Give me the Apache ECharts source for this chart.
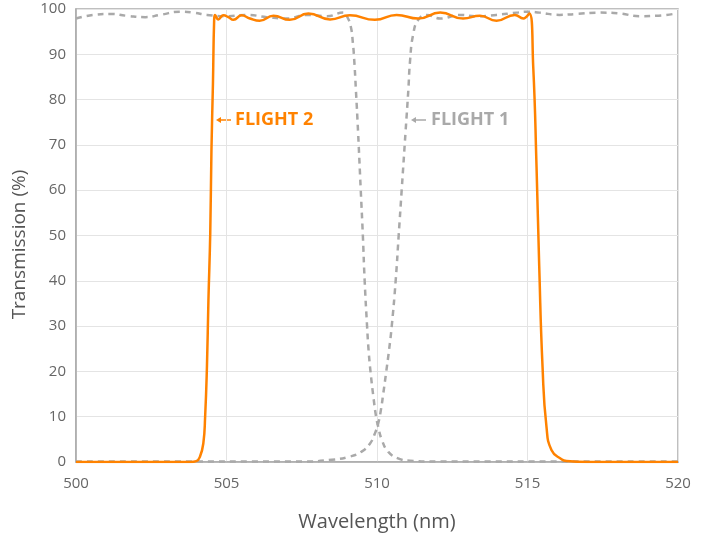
<!DOCTYPE html>
<html><head><meta charset="utf-8">
<script src="https://cdn.jsdelivr.net/npm/echarts@6/dist/echarts.min.js"></script>
<style>html,body{margin:0;padding:0;background:#fff}#c{width:702px;height:537px}</style>
</head><body><div id="c"></div>
<script>
// Flight 2 (bandpass, orange) [wavelength nm, transmission %]
const flight2 = [
 [500,0],[503.8,0],[504.0,0.2],[504.12,1.2],[504.23,4.1],[504.29,10],[504.35,21],[504.4,35.8],[504.46,50.5],
 [504.5,68.9],[504.55,83.6],[504.59,97.6],[504.62,98.7],[504.73,97.7],[504.85,98.5],[504.9,98.6],[505.06,98.2],
 [505.23,97.6],[505.5,98.6],[505.78,97.9],[506.1,97.4],[506.56,98.5],[507.1,97.6],[507.72,99.0],[508.44,97.7],
 [509.1,98.6],[509.93,97.6],[510.65,98.7],[511.37,97.9],[512.1,99.2],[512.86,97.9],[513.42,98.5],[513.97,97.4],
 [514.58,98.7],[514.86,97.9],[515.06,99.0],[515.19,87.3],[515.3,65.2],[515.39,43.1],[515.5,21],[515.63,7.8],
 [515.8,2.6],[516.13,0.6],[516.3,0.2],[517,0],[520,0]
];
// Flight 1, short-pass edge (grey dashed)
const flight1a = [
 [500,97.9],[500.58,98.7],[501.14,98.9],[501.69,98.5],[502.3,98.2],[502.8,98.7],[503.47,99.4],[503.9,99.2],
 [504.35,98.7],[505.0,98.4],[505.67,98.7],[506.34,98.2],[507.0,97.9],[507.67,98.7],[508.33,98.4],[508.88,99.2],
 [509.0,98.4],[509.13,96.1],[509.2,92.4],[509.24,89.1],[509.3,82],[509.37,73],[509.46,60],[509.53,50],
 [509.59,40],[509.67,30],[509.72,24.7],[509.79,19.6],[509.88,14.4],[509.97,10],[510.04,7.8],[510.16,4.9],
 [510.37,2.3],[510.7,0.8],[511.1,0.3],[512,0.1],[520,0.1]
];
// Flight 1, long-pass edge (grey dashed)
const flight1b = [
 [500,0.1],[507.55,0.1],[508.5,0.5],[509.1,1.2],[509.49,2.3],[509.77,4.1],[509.93,6.3],[510.04,8.5],[510.13,11.5],
 [510.21,15.2],[510.3,19.6],[510.4,24.7],[510.49,30],[510.62,40],[510.72,50],[510.82,60],[510.95,73],[511.04,82],
 [511.1,88.7],[511.2,94.3],[511.37,97.6],[511.65,98.7],[512.1,97.9],[512.76,98.7],[513.31,98.4],[513.97,98.7],
 [514.64,99.2],[515.02,99.4],[515.4,99.2],[516.06,98.7],[516.6,98.9],[517.4,99.2],[518.07,99.0],[518.73,98.4],
 [519.28,98.5],[519.94,99.0]
];
const xTicks = [500,505,510,515,520];
const yTicks = [0,10,20,30,40,50,60,70,80,90,100];

const FONT = '"Open Sans", Lato, sans-serif';
const chart = echarts.init(document.getElementById('c'), null, {renderer:'canvas'});
const grey = '#a9a9a9', orange = '#ff8200';
chart.setOption({
  animation:false,
  grid:{left:76,right:24,top:9,bottom:75,show:true,borderColor:'#aaaaaa',borderWidth:1.5,
        containLabel:false,outerBoundsMode:'none'},
  xAxis:{type:'value',min:xTicks[0],max:xTicks[xTicks.length-1],interval:5,
    name:'Wavelength (nm)',nameLocation:'middle',nameGap:50,
    nameTextStyle:{fontFamily:FONT,fontSize:20,color:'#555'},
    axisLine:{lineStyle:{color:'#aaaaaa',width:1.5}},axisTick:{show:false},
    axisLabel:{fontFamily:FONT,fontSize:15,color:'#666',margin:14},
    splitLine:{show:true,lineStyle:{color:'#e4e4e4',width:1}}},
  yAxis:{type:'value',min:yTicks[0],max:yTicks[yTicks.length-1],interval:10,
    name:'Transmission (%)',nameLocation:'middle',nameGap:44,
    nameTextStyle:{fontFamily:FONT,fontSize:19,color:'#555',padding:[0,18,0,0]},
    axisLine:{show:true,lineStyle:{color:'#aaaaaa',width:1.5}},axisTick:{show:false},
    axisLabel:{fontFamily:FONT,fontSize:15,color:'#666',margin:10},
    splitLine:{show:true,lineStyle:{color:'#e4e4e4',width:1}}},
  series:[
    {type:'line',data:flight1a,showSymbol:false,smooth:0.5,z:2,
      lineStyle:{color:grey,width:2.5,type:[6,5]}},
    {type:'line',data:flight1b,showSymbol:false,smooth:0.5,z:2,
      lineStyle:{color:grey,width:2.5,type:[6,5]}},
    {type:'line',data:flight2,showSymbol:false,smooth:0.5,z:3,
      lineStyle:{color:orange,width:2.5}}
  ],
  graphic:[
    {type:'line',shape:{x1:218,y1:120,x2:231,y2:120},style:{stroke:orange,lineWidth:1.5}},
    {type:'polygon',shape:{points:[[216,120],[221,117],[221,123]]},style:{fill:orange}},
    {type:'text',x:235,y:120,style:{text:'FLIGHT 2',fill:orange,font:'bold 18px '+FONT,verticalAlign:'middle'}},
    {type:'line',shape:{x1:413,y1:120,x2:426,y2:120},style:{stroke:grey,lineWidth:1.5}},
    {type:'polygon',shape:{points:[[411,120],[416,117],[416,123]]},style:{fill:grey}},
    {type:'text',x:431,y:120,style:{text:'FLIGHT 1',fill:grey,font:'bold 18px '+FONT,verticalAlign:'middle'}}
  ]
});
</script></body></html>
